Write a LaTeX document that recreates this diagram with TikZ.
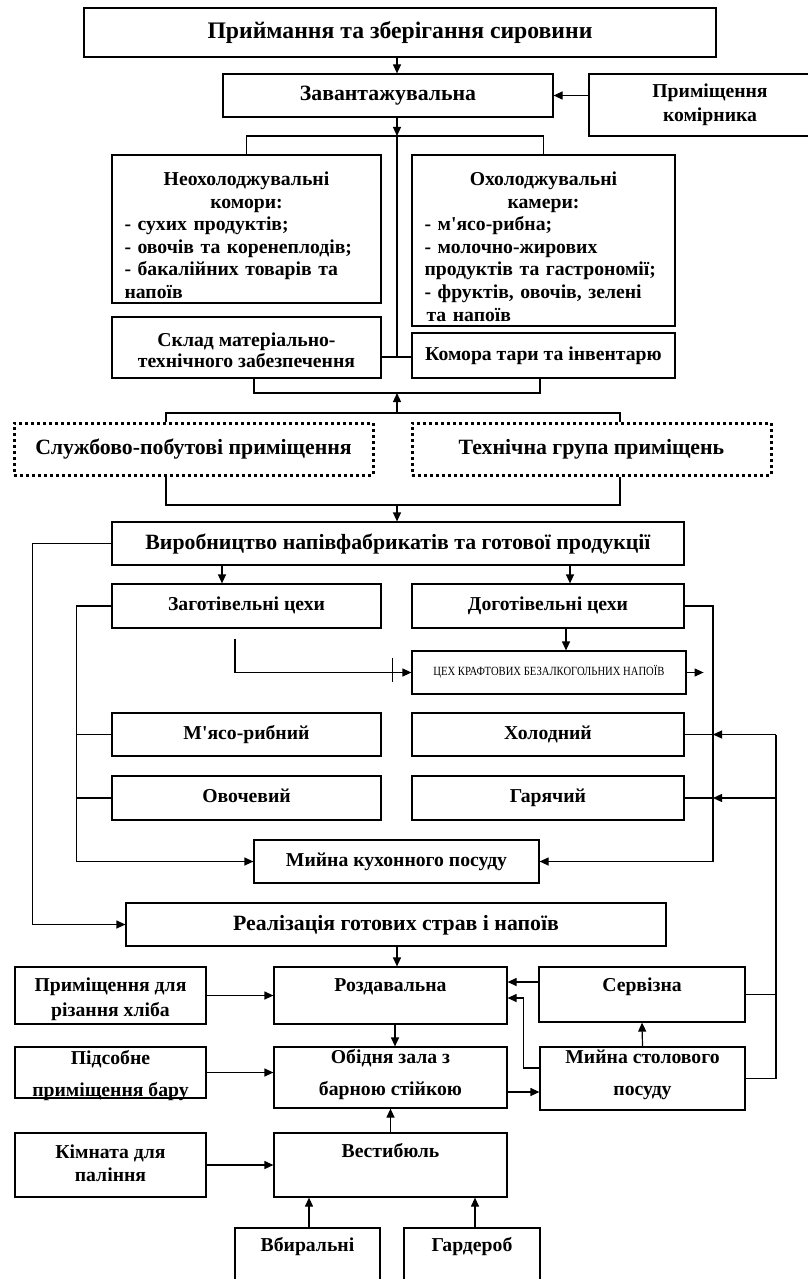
\documentclass[tikz,border=0pt]{standalone}
\usepackage{fontspec}
\setmainfont{Liberation Serif}
\usetikzlibrary{arrows.meta}

\begin{document}
\begin{tikzpicture}[x=1pt,y=-1pt,
	box/.style={draw,line width=1.2pt,inner sep=0pt,align=center,text depth=4pt,font=\bfseries\fontsize{19.7}{22.6}\selectfont},
	bigbox/.style={box,font=\bfseries\fontsize{21.8}{24}\selectfont},
	dotbox/.style={bigbox,line width=3pt,dash pattern=on 3pt off 3pt},
	ln/.style={line width=1.2pt},
	arr/.style={ln,-{Triangle[length=9pt,width=8pt]}}]
	\useasboundingbox (0,0) rectangle (807,1279);

	\coordinate (sp) at (397,0);
	\coordinate (xa) at (222,0);
	\coordinate (xb) at (570,0);
	\coordinate (xc) at (566,0);
	\coordinate (xd) at (309,0);
	\coordinate (xe) at (475,0);
	\coordinate (rb) at (713,0);
	\coordinate (fr) at (776,0);
	\coordinate (j1) at (397,136);
	\coordinate (j2) at (397,357);
	\coordinate (j3) at (397,393);
	\coordinate (j4) at (397,413);
	\coordinate (j5) at (397,505);

	\node[box,minimum width=632,minimum height=49,font=\bfseries\fontsize{23.7}{26}\selectfont] (prijom) at (400,32.5) {Приймання та зберігання сировини};
	\node[bigbox,minimum width=330,minimum height=43] (zavant) at (388,95.5) {Завантажувальна};
	\node[box,minimum width=242,minimum height=62,text height=36.6] (komirn) at (710,105) {Приміщення\\[0.7pt]комірника};
	\node[box,minimum width=269,minimum height=148,text width=244,align=left,text height=14,text depth=101] (neohol) at (246.5,229) {\makebox[244pt]{Неохолоджувальні}\\\makebox[244pt]{комори:}\\- сухих продуктів;\\- овочів та коренеплодів;\\\makebox[244pt][s]{- бакалійних товарів та}\\напоїв};
	\node[box,minimum width=263,minimum height=171,text width=238,align=left,text height=14,text depth=124] (ohol) at (543.5,240.5) {\makebox[238pt]{Охолоджувальні}\\\makebox[238pt]{камери:}\\- м\textquotesingle ясо-рибна;\\- молочно-жирових\\продуктів та гастрономії;\\- фруктів, овочів, зелені\\\hspace{2pt}та напоїв};
	\node[box,minimum width=269,minimum height=61,text height=43] (sklad) at (246.5,347.5) {Склад матеріально-\\[-1.9pt]технічного забезпечення};
	\node[box,minimum width=263,minimum height=45] (komtar) at (543.5,355.5) {Комора тари та інвентарю};
	\node[dotbox,minimum width=359,minimum height=52] (sluzhb) at (193.5,449) {Службово-побутові приміщення};
	\node[dotbox,minimum width=359,minimum height=52] (tekhn) at (591.5,449) {Технічна група приміщень};
	\node[bigbox,minimum width=572,minimum height=43] (vyrob) at (398,543.5) {Виробництво напівфабрикатів та готової продукції};
	\node[box,minimum width=269,minimum height=44] (zagot) at (246.5,606) {Заготівельні цехи};
	\node[box,minimum width=272,minimum height=44] (dogot) at (548,606) {Доготівельні цехи};
	\node[box,minimum width=274,minimum height=43,font=\fontsize{12.5}{14}\selectfont] (kraft) at (549,672.5) {\scalebox{0.85}[1]{ЦЕХ КРАФТОВИХ БЕЗАЛКОГОЛЬНИХ НАПОЇВ}};
	\node[box,minimum width=269,minimum height=43] (myaso) at (246.5,734.5) {М\textquotesingle ясо-рибний};
	\node[box,minimum width=272,minimum height=43] (kholod) at (548,734.5) {Холодний};
	\node[box,minimum width=269,minimum height=44] (ovoch) at (246.5,798) {Овочевий};
	\node[box,minimum width=272,minimum height=44] (garyach) at (548,798) {Гарячий};
	\node[box,minimum width=285,minimum height=43] (myikukh) at (396.5,861.5) {Мийна кухонного посуду};
	\node[bigbox,minimum width=540,minimum height=43] (realiz) at (396,924.5) {Реалізація готових страв і напоїв};
	\node[box,minimum width=191,minimum height=57,text height=46.2] (khlib) at (110.5,995.5) {Приміщення для\\[2.4pt]різання хліба};
	\node[box,minimum width=233,minimum height=57,text height=14,text depth=21.8] (rozdav) at (390.5,995.5) {Роздавальна};
	\node[box,minimum width=206,minimum height=55,text height=14,text depth=19.8] (servizn) at (642,994.5) {Сервізна};
	\node[box,minimum width=191,minimum height=51,text height=49,text depth=2] (pidsob) at (110.5,1072.5) {Підсобне\\[9.1pt]приміщення бару};
	\node[box,minimum width=233,minimum height=61,text height=39.6] (obidnya) at (390.5,1077.5) {Обідня зала з\\[9.1pt]барною стійкою};
	\node[box,minimum width=205,minimum height=63,text height=37.6] (myistol) at (642.5,1078.5) {Мийна столового\\[9.1pt]посуду};
	\node[box,minimum width=191,minimum height=64,text height=36.6] (kimnata) at (110.5,1165) {Кімната для\\[0.7pt]паління};
	\node[box,minimum width=233,minimum height=64,text height=14,text depth=28.2] (vestyb) at (390.5,1165) {Вестибюль};
	\node[box,minimum width=145,minimum height=72,text height=14,text depth=39.4] (vbyral) at (307.5,1264) {Вбиральні};
	\node[box,minimum width=136,minimum height=72,text height=14,text depth=39.4] (garder) at (472,1264) {Гардероб};

	\draw[arr] (prijom.south -| sp) -- (zavant.north -| sp);
	\draw[arr] (komirn.west |- zavant.east) -- (zavant.east);
	\draw[arr] (zavant.south -| sp) -- (j1);
	\draw[ln] (neohol.north) -- (neohol.north |- j1) -- (ohol.north |- j1) -- (ohol.north);
	\draw[ln] (j1) -- (j2);
	\draw[ln] (sklad.east |- j2) -- (komtar.west |- j2);
	\draw[ln] ([xshift=7.5pt]sklad.south) |- (j3) -| ([xshift=-3.5pt]komtar.south);
	\draw[arr] (j4) -- (j3);
	\draw[ln] ([xshift=-27.5pt]sluzhb.north) |- (j4) -| ([xshift=28.5pt]tekhn.north);
	\draw[ln] ([xshift=-27.5pt]sluzhb.south) |- (j5) -| ([xshift=28.5pt]tekhn.south);
	\draw[arr] (j5) -- (j5 |- vyrob.north);
	\draw[arr] (vyrob.west) -- ++(-79,0) |- (realiz.west);
	\draw[arr] (vyrob.south -| xa) -- (zagot.north -| xa);
	\draw[arr] (vyrob.south -| xb) -- (dogot.north -| xb);
	\draw[arr] (zagot.west) -- ++(-35,0) |- (myikukh.west);
	\draw[ln] (myaso.west) -- ++(-35,0);
	\draw[ln] (ovoch.west) -- ++(-35,0);
	\draw[arr] (dogot.east) -- (rb |- dogot.east) |- (myikukh.east);
	\draw[ln] (kholod.east) -- (rb |- kholod.east);
	\draw[ln] (garyach.east) -- (rb |- garyach.east);
	\draw[arr] (dogot.south -| xc) -- (kraft.north -| xc);
	\draw[arr] ([xshift=-11.5pt,yshift=-10pt]zagot.south) |- (kraft.west);
	\draw[ln] ([xshift=-19pt,yshift=14.5pt]kraft.west) -- ++(0,24);
	\draw[arr] (kraft.east) -- ++(17,0);
	\draw[ln] (myistol.east) -| (fr |- kholod.east);
	\draw[ln] (servizn.east) -- (fr |- servizn.east);
	\draw[arr] (fr |- kholod.east) -- (rb |- kholod.east);
	\draw[arr] (fr |- garyach.east) -- (rb |- garyach.east);
	\draw[arr] (realiz.south -| sp) -- (rozdav.north -| sp);
	\draw[arr] (khlib.east) -- (rozdav.west |- khlib.east);
	\draw[arr] ([yshift=12.5pt]servizn.west) -- ([yshift=12.5pt]servizn.west -| rozdav.east);
	\draw[arr] ([yshift=10.5pt]myistol.west) -- ++(-16,0) |- ([yshift=-2.5pt]rozdav.east);
	\draw[arr] ([xshift=4.5pt]rozdav.south) -- ([xshift=4.5pt]obidnya.north);
	\draw[arr] (pidsob.east) -- (obidnya.west |- pidsob.east);
	\draw[arr] ([yshift=-14.5pt]obidnya.east) -- ([yshift=-14.5pt]obidnya.east -| myistol.west);
	\draw[arr] (myistol.north) -- (servizn.south);
	\draw[arr] (vestyb.north) -- (obidnya.south);
	\draw[arr] (kimnata.east) -- (vestyb.west);
	\draw[arr] (vbyral.north -| xd) -- (vestyb.south -| xd);
	\draw[arr] (garder.north -| xe) -- (vestyb.south -| xe);
\end{tikzpicture}
\end{document}
